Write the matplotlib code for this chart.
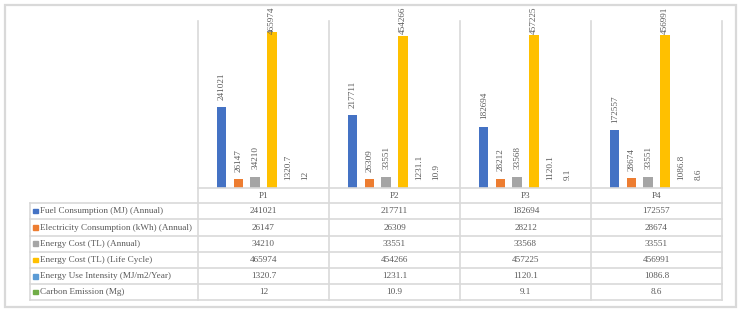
import matplotlib
matplotlib.use("Agg")
import matplotlib.pyplot as plt
from matplotlib.patches import Rectangle

categories = ["P1", "P2", "P3", "P4"]
series_names = [
    "Fuel Consumption (MJ) (Annual)",
    "Electricity Consumption (kWh) (Annual)",
    "Energy Cost (TL) (Annual)",
    "Energy Cost (TL) (Life Cycle)",
    "Energy Use Intensity (MJ/m2/Year)",
    "Carbon Emission (Mg)",
]
fuel = [241021, 217711, 182694, 172557]
electricity = [26147, 26309, 28212, 28674]
cost_annual = [34210, 33551, 33568, 33551]
cost_life = [465974, 454266, 457225, 456991]
eui = [1320.7, 1231.1, 1120.1, 1086.8]
carbon = [12, 10.9, 9.1, 8.6]
label_text = [
    ["241021", "217711", "182694", "172557"],
    ["26147", "26309", "28212", "28674"],
    ["34210", "33551", "33568", "33551"],
    ["465974", "454266", "457225", "456991"],
    ["1320.7", "1231.1", "1120.1", "1086.8"],
    ["12", "10.9", "9.1", "8.6"],
]
series = [fuel, electricity, cost_annual, cost_life, eui, carbon]
colors = ["#4472C4", "#ED7D31", "#A5A5A5", "#FFC000", "#5B9BD5", "#70AD47"]

W, H = 741, 311
fig = plt.figure(figsize=(W / 100, H / 100), dpi=100)
FONT = "Liberation Serif"
TXT = "#595959"
GRID = "#d9d9d9"
FS = 6.6

# plot area
px_left, px_right, px_top, px_base = 198, 722, 21, 188
ax = fig.add_axes([px_left / W, (H - px_base) / H,
                   (px_right - px_left) / W, (px_base - px_top) / H])
ax.set_xlim(-0.5, len(categories) - 0.5)
ax.set_ylim(0, 500000)
ax.axis("off")
ax.set_zorder(1)

# overlay axes in pixel coordinates (y downward), drawn above the bars
ov = fig.add_axes([0, 0, 1, 1])
ov.set_xlim(0, W)
ov.set_ylim(H, 0)
ov.axis("off")
ov.set_zorder(2)

slot = 0.1275
bw = 0.0725
n = len(series)
for k, (vals, col) in enumerate(zip(series, colors)):
    xs = [i + (k - (n - 1) / 2) * slot for i in range(len(categories))]
    ax.bar(xs, vals, width=bw, color=col, zorder=3)
    for x, v, t in zip(xs, vals, label_text[k]):
        dx, dy = ax.transData.transform((x, v))
        py = H - dy  # pixel y of bar top (downward)
        bottom = py - 7.5
        top = bottom - 4.4 * len(t)
        if top < 8:
            bottom += 8 - top
        ov.text(dx, bottom, t, rotation=90, ha="center", va="bottom",
                fontsize=FS, color=TXT, family=FONT, zorder=5)

# grid / table lines
col_edges = [px_left + (px_right - px_left) * i / len(categories)
             for i in range(len(categories) + 1)]
tab_left = 30
row_lines = [188, 203, 219.3, 235.7, 251.7, 268.3, 284.3, 300]
lw = 1.2
for x in col_edges:
    ov.plot([x, x], [px_top, row_lines[-1]], color=GRID, lw=lw, zorder=1)
ov.plot([tab_left, tab_left], [row_lines[1], row_lines[-1]], color=GRID, lw=lw)
for y in row_lines[1:]:
    ov.plot([tab_left, px_right], [y, y], color=GRID, lw=lw)
ov.plot([px_left, px_right], [row_lines[0], row_lines[0]], color=GRID, lw=lw, zorder=4)

# outer border
ov.add_patch(Rectangle((5, 5), 731, 302, fill=False, ec=GRID, lw=1.6))

# header
for i, c in enumerate(categories):
    cx = (col_edges[i] + col_edges[i + 1]) / 2
    ov.text(cx, (row_lines[0] + row_lines[1]) / 2 + 0.5, c, ha="center", va="center",
            fontsize=FS, color=TXT, family=FONT)

# rows
for k in range(n):
    cy = (row_lines[k + 1] + row_lines[k + 2]) / 2
    ov.add_patch(Rectangle((33.3, cy - 2.3), 4.6, 4.6, color=colors[k]))
    ov.text(40.5, cy, series_names[k], ha="left", va="center",
            fontsize=FS, color=TXT, family=FONT)
    for i in range(len(categories)):
        cx = (col_edges[i] + col_edges[i + 1]) / 2
        ov.text(cx, cy, label_text[k][i], ha="center", va="center",
                fontsize=FS, color=TXT, family=FONT)

fig.savefig("out.png", dpi=100)
